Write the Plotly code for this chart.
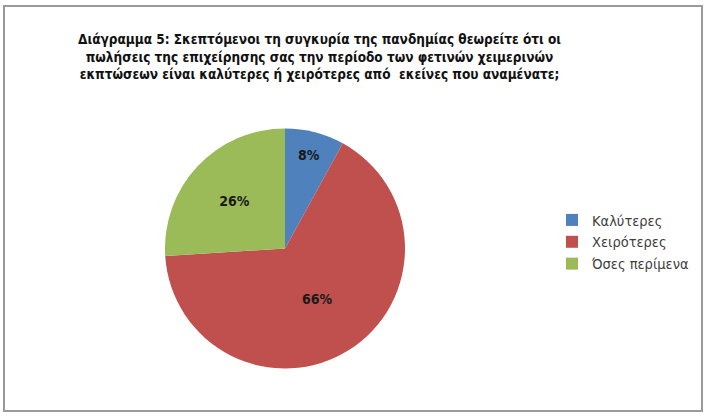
import plotly.graph_objects as go

# Διάγραμμα 5 - απαντήσεις (%)
labels = ["Καλύτερες", "Χειρότερες", "Όσες περίμενα"]
values = [8, 66, 26]
colors = ["#4F81BD", "#C0504D", "#9BBB59"]

title_lines = [
    "Διάγραμμα 5: Σκεπτόμενοι τη συγκυρία της πανδημίας θεωρείτε ότι οι",
    "πωλήσεις της επιχείρησης σας την περίοδο των φετινών χειμερινών",
    "εκπτώσεων είναι καλύτερες ή χειρότερες από  εκείνες που αναμένατε;",
]

W, H = 711, 419
FONT = "DejaVu Sans Condensed"

fig = go.Figure(go.Pie(
    labels=labels,
    values=values,
    marker=dict(colors=colors, line=dict(color="white", width=0)),
    sort=False,
    direction="clockwise",
    rotation=0,
    texttemplate="<b>%{percent:.0%}</b>",
    textposition="inside",
    insidetextorientation="horizontal",
    textfont=dict(family=FONT, size=14, color="#1a1a1a"),
    hoverinfo="label+percent",
    domain=dict(x=[165 / W, 405 / W], y=[1 - 369 / H, 1 - 128 / H]),
))

fig.add_annotation(
    text="<br>".join(title_lines),
    x=319 / W, y=1 - 29 / H, xref="paper", yref="paper",
    xanchor="center", yanchor="top", showarrow=False, align="center",
    font=dict(family=FONT, size=13.5, color="#111111", weight="bold"),
)

# πλαίσιο γύρω από το διάγραμμα
fig.add_shape(
    type="rect", xref="paper", yref="paper",
    x0=4 / W, x1=702 / W, y0=1 - 411 / H, y1=1 - 6 / H,
    line=dict(color="#9a9a9a", width=2),
)

fig.update_layout(
    width=W, height=H,
    margin=dict(l=0, r=0, t=0, b=0),
    paper_bgcolor="white",
    showlegend=True,
    legend=dict(
        x=552 / W, y=0.5 + (419 / 2 - 242) / H, xanchor="left", yanchor="middle",
        font=dict(family=FONT, size=14.5, color="#404040"),
        itemwidth=30,
    ),
)

fig.write_html(
    "out.html",
    config={"displayModeBar": False},
    post_script="document.body.style.margin='0';",
)
